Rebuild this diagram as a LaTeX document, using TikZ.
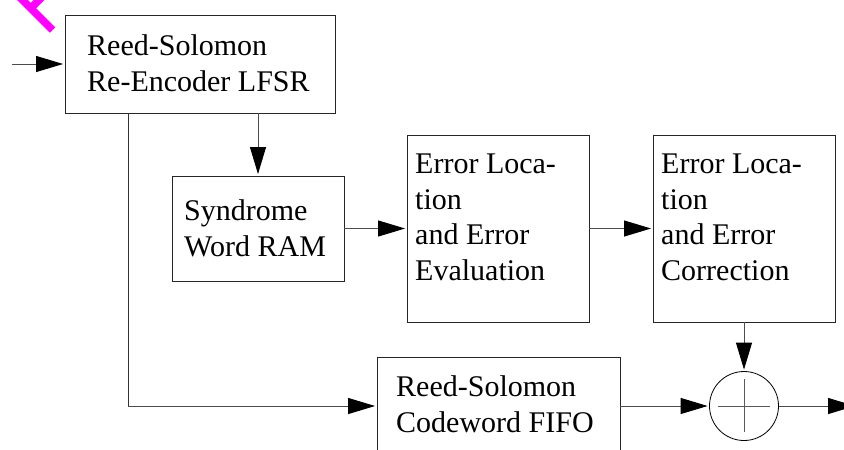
\documentclass[tikz,border=0pt]{standalone}
\usepackage{fontspec}
\setmainfont{Liberation Serif}
\usetikzlibrary{arrows.meta,calc}
\definecolor{pureMagenta}{RGB}{255,0,255}
\tikzset{
  blockbox/.style={draw=black!85,line width=0.9pt,rectangle,inner sep=0pt},
  blocktext/.style={inner sep=0pt,anchor=base west,align=left,font=\fontsize{30pt}{35.5pt}\selectfont},
  flow/.style={draw=black!70,line width=1pt,-{Triangle[length=27pt,width=16pt,color=black]},shorten >=1.5pt},
  plain/.style={draw=black!80,line width=0.9pt},
  crossline/.style={draw=black!65,line width=0.9pt},
  sumcircle/.style={draw=black,line width=0.8pt,circle,inner sep=0pt,minimum size=69pt},
  stamp/.style={draw=pureMagenta,line width=7.5pt}
}
\begin{document}
\begin{tikzpicture}[x=1pt,y=-1pt]
\useasboundingbox (0,0) rectangle (844,450);
\clip (0,0) rectangle (844,450);
\fill[white] (0,0) rectangle (844,450);
% magenta fragment
\draw[stamp] (52.5,30) -- (15,-7.5);
\draw[stamp] (31,8) -- (44,-5);
% boxes
\node[blockbox,minimum width=270pt,minimum height=98pt] (rs) at (200,64) {};
\node[blockbox,minimum width=172pt,minimum height=105pt] (syn) at (258,228.5) {};
\node[blockbox,minimum width=182pt,minimum height=187pt] (loc) at (498,228.5) {};
\node[blockbox,minimum width=182pt,minimum height=187pt] (cor) at (744,228.5) {};
\node[blockbox,minimum width=243pt,minimum height=98pt] (fifo) at (498.5,406) {};
\node[sumcircle] (sum) at (744,406) {};
% texts
\node[blocktext] (trs) at (87,91) {Reed-Solomon\\Re-Encoder LFSR};
\node[blocktext] (tsyn) at (184,256) {Syndrome\\Word RAM};
\node[blocktext] (tloc) at (415,280) {Error Loca-\\tion\\and Error\\Evaluation};
\node[blocktext] (tcor) at (661,280) {Error Loca-\\tion\\and Error\\Correction};
\node[blocktext] (tfifo) at (396,432) {Reed-Solomon\\Codeword FIFO};
% connectors
\coordinate (in) at (12,64);
\coordinate (out) at (855,406);
\coordinate (tap) at (128,113);
\coordinate (bend) at (128,406);
\draw[flow] (in) -- (rs.west);
\draw[flow] (rs.south -| syn.north) -- (syn.north);
\draw[flow] (syn.east) -- (syn.east -| loc.west);
\draw[flow] (loc.east) -- (cor.west);
\draw[plain] (tap) -- (bend);
\draw[flow] (bend) -- (fifo.west);
\draw[flow] (fifo.east) -- (sum.west);
\draw[flow] (cor.south) -- (sum.north);
\draw[flow,shorten >=0pt] (sum.east) -- (out);
\draw[crossline] ($(sum.center)+(-26,0)$) -- ($(sum.center)+(26,0)$);
\draw[crossline] ($(sum.center)+(0,-27)$) -- ($(sum.center)+(0,26)$);
\end{tikzpicture}
\end{document}
